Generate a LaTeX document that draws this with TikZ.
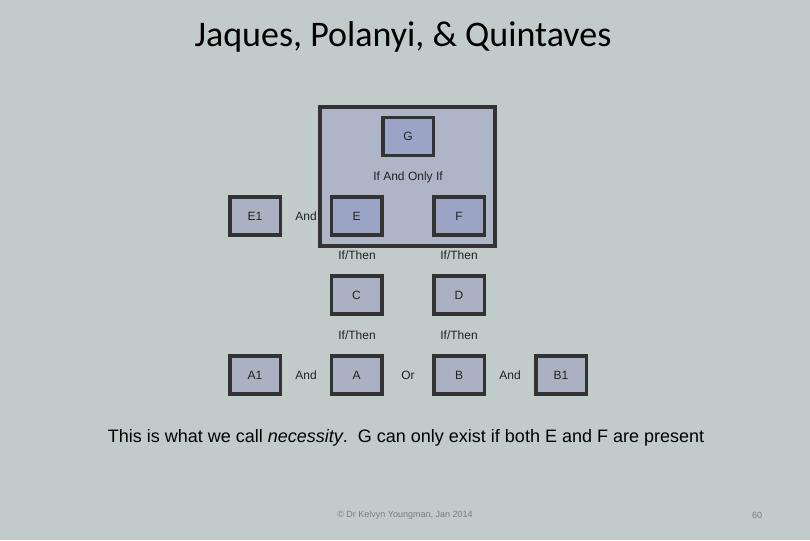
\documentclass[tikz,border=0pt]{standalone}
\usepackage{fontspec}
\setmainfont{Liberation Sans}
\newfontfamily\titlefont{Carlito}
\definecolor{bgc}{HTML}{C0CBCA}
\definecolor{bigc}{HTML}{ADB5C6}
\definecolor{innerc}{HTML}{9CA4C6}
\definecolor{boxc}{HTML}{AAB1C3}
\definecolor{bordc}{HTML}{333333}
\definecolor{txtc}{HTML}{222222}
\definecolor{footc}{HTML}{7A7F80}
\tikzset{
  box/.style={draw=bordc, line width=3.5pt, fill=boxc, minimum width=50.5pt, minimum height=38pt, inner sep=0pt, text=txtc, font=\fontsize{12}{14}\selectfont},
  gbox/.style={box, fill=innerc},
  lbl/.style={inner sep=0pt, text=txtc, font=\fontsize{12}{14}\selectfont}
}
\begin{document}
\begin{tikzpicture}[x=1pt,y=-1pt]
\fill[bgc] (0,0) rectangle (810,540);
\useasboundingbox (0,0) rectangle (810,540);
\node[inner sep=0pt, text=black, font=\titlefont\fontsize{36}{42}\selectfont] (title) at (403,37) {Jaques, Polanyi, \& Quintaves};
\node[draw=bordc, line width=4pt, fill=bigc, minimum width=175pt, minimum height=139pt, inner sep=0pt] (big) at (407.5,176.5) {};
\node[gbox] (G) at (408,136.5) {G};
\node[lbl] (iff) at (408,177) {If And Only If};
\node[gbox] (E) at (356.5,216) {E};
\node[gbox] (F) at (459,216) {F};
\node[box] (E1) at (255,216) {E1};
\node[lbl] (and1) at (306,216) {And};
\node[lbl] (it1) at (357,255) {If/Then};
\node[lbl] (it2) at (459,255) {If/Then};
\node[box] (C) at (356.5,295) {C};
\node[box] (D) at (459,295) {D};
\node[lbl] (it3) at (357,335) {If/Then};
\node[lbl] (it4) at (459,335) {If/Then};
\node[box] (A1) at (255,375) {A1};
\node[lbl] (and2) at (306,375) {And};
\node[box] (A) at (356.5,375) {A};
\node[lbl] (or) at (408,375) {Or};
\node[box] (B) at (459,375) {B};
\node[lbl] (and3) at (510,375) {And};
\node[box] (B1) at (561,375) {B1};
\node[inner sep=0pt, text=black, font=\fontsize{18}{21}\selectfont] (cap) at (406,438) {This is what we call \textit{necessity}.\ \ G can only exist if both E and F are present};
\node[inner sep=0pt, text=footc, font=\fontsize{9}{11}\selectfont] (foot) at (405,515) {© Dr Kelvyn Youngman, Jan 2014};
\node[inner sep=0pt, text=footc, font=\fontsize{9}{11}\selectfont] (pg) at (757,515) {60};
\end{tikzpicture}
\end{document}
